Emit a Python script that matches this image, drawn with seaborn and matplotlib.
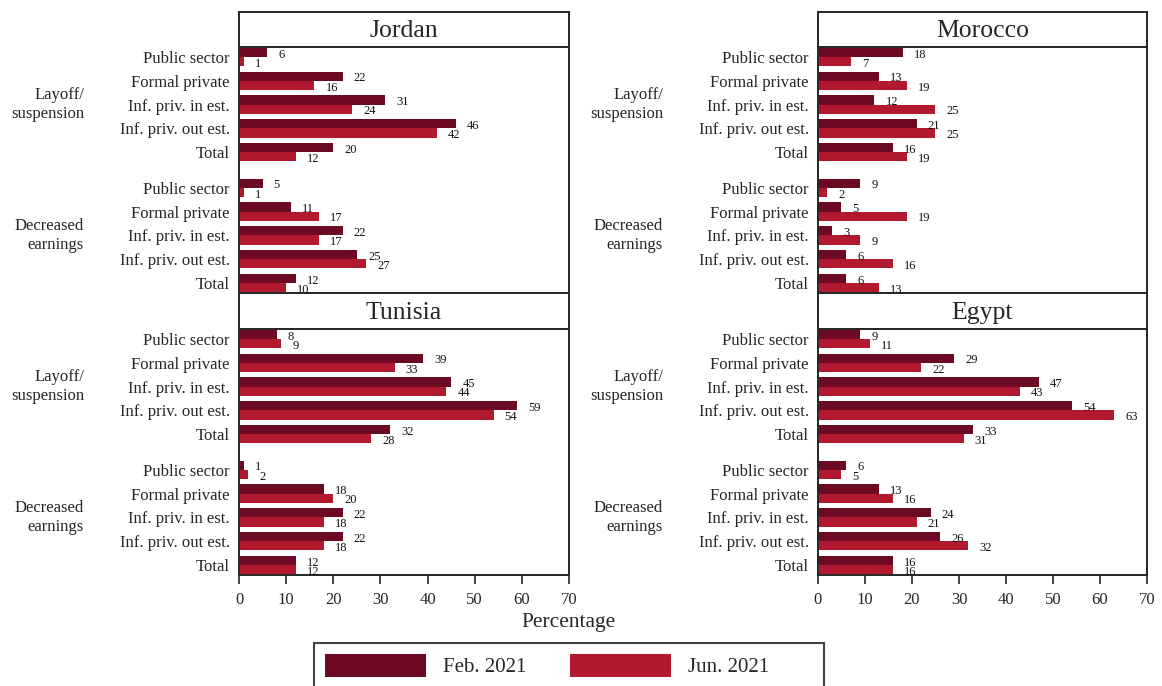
import matplotlib
matplotlib.use("Agg")
import matplotlib.pyplot as plt
from matplotlib.patches import Patch, Rectangle
import pandas as pd
import seaborn as sns

# ---- data -----------------------------------------------------------------
countries = ["Jordan", "Morocco", "Tunisia", "Egypt"]
sectors = ["Public sector", "Formal private", "Inf. priv. in est.",
           "Inf. priv. out est.", "Total"]
group_labels = ["Layoff/\nsuspension", "Decreased\nearnings"]
waves = ["Feb. 2021", "Jun. 2021"]
x_ticks = [0, 10, 20, 30, 40, 50, 60, 70]

# first five values: layoff/suspension; last five: decreased earnings
jordan_feb = [6, 22, 31, 46, 20, 5, 11, 22, 25, 12]
jordan_jun = [1, 16, 24, 42, 12, 1, 17, 17, 27, 10]
morocco_feb = [18, 13, 12, 21, 16, 9, 5, 3, 6, 6]
morocco_jun = [7, 19, 25, 25, 19, 2, 19, 9, 16, 13]
tunisia_feb = [8, 39, 45, 59, 32, 1, 18, 22, 22, 12]
tunisia_jun = [9, 33, 44, 54, 28, 2, 20, 18, 18, 12]
egypt_feb = [9, 29, 47, 54, 33, 6, 13, 24, 26, 16]
egypt_jun = [11, 22, 43, 63, 31, 5, 16, 21, 32, 16]

series = {
    "Jordan": (jordan_feb, jordan_jun),
    "Morocco": (morocco_feb, morocco_jun),
    "Tunisia": (tunisia_feb, tunisia_jun),
    "Egypt": (egypt_feb, egypt_jun),
}

# ---- style ----------------------------------------------------------------
sns.set_style("white")
plt.rcParams["font.family"] = ["Liberation Serif", "DejaVu Serif"]
DARK = "#6B0A22"
RED = "#B2192E"
EDGE = "#262626"

W, H = 1162, 686
fig = plt.figure(figsize=(W / 100, H / 100), dpi=100)

# row positions: two blocks of five rows with a wider gap between blocks
GAP = 1.5
row_pos = [i for i in range(5)] + [4 + GAP + i for i in range(5)]


def fx(px):
    return px / W


def fy(py):
    return 1 - py / H


col_x = {0: (239, 569), 1: (818, 1147)}
row_y = {0: (12, 47, 293), 1: (293, 329, 575)}  # strip top, plot top, plot bottom
layout = {"Jordan": (0, 0), "Morocco": (0, 1), "Tunisia": (1, 0), "Egypt": (1, 1)}

for country in countries:
    r, c = layout[country]
    x0, x1 = col_x[c]
    s_top, p_top, p_bot = row_y[r]

    # facet strip with the country name
    sax = fig.add_axes([fx(x0), fy(p_top), fx(x1 - x0), (p_top - s_top) / H])
    sax.set_xticks([])
    sax.set_yticks([])
    sax.set_facecolor("white")
    for sp in sax.spines.values():
        sp.set_color(EDGE)
        sp.set_linewidth(1.4)
    sax.text(0.5, 0.45, country, ha="center", va="center", fontsize=18.5,
             transform=sax.transAxes)

    ax = fig.add_axes([fx(x0), fy(p_bot), fx(x1 - x0), (p_bot - p_top) / H])
    feb, jun = series[country]
    df = pd.DataFrame({
        "pos": row_pos * 2,
        "value": feb + jun,
        "wave": [waves[0]] * len(feb) + [waves[1]] * len(jun),
    })
    sns.barplot(data=df, x="value", y="pos", hue="wave", hue_order=waves,
                palette=[DARK, RED], orient="y", native_scale=True,
                width=0.78, saturation=1, linewidth=0, errorbar=None,
                legend=False, ax=ax)

    for cont in ax.containers:
        for bar in cont:
            w = bar.get_width()
            yc = bar.get_y() + bar.get_height() / 2
            ax.annotate(f"{w:.0f}", xy=(w, yc), xytext=(8, -1.6),
                        textcoords="offset points", ha="left", va="center",
                        fontsize=9, color="#111111")

    ax.set_xlim(0, 70)
    ax.set_ylim(row_pos[-1] + 0.42, -0.42)
    ax.set_yticks(row_pos)
    ax.set_yticklabels(sectors * 2, fontsize=12)
    ax.tick_params(axis="y", length=0, pad=6.5)
    ax.set_xlabel("")
    ax.set_ylabel("")
    for sp in ax.spines.values():
        sp.set_color(EDGE)
        sp.set_linewidth(1.4)

    if r == 1:
        ax.set_xticks(x_ticks)
        ax.set_xticklabels([str(t) for t in x_ticks], fontsize=12)
        ax.tick_params(axis="x", direction="out", length=6.2, width=1.2,
                       color=EDGE, pad=6, bottom=True)
    else:
        ax.set_xticks([])

    # block labels to the left of the sector names
    for g, lab in enumerate(group_labels):
        yc = (row_pos[5 * g] + row_pos[5 * g + 4]) / 2
        ax.text(-155 / (x1 - x0), yc, lab, ha="right", va="center",
                fontsize=12, linespacing=1.3,
                transform=ax.get_yaxis_transform())

fig.text(fx(569), fy(622), "Percentage", ha="center", va="center", fontsize=15.5)

# legend frame (runs past the bottom edge of the canvas)
fig.add_artist(Rectangle((fx(314), -0.1), fx(824 - 314), fy(643) + 0.1,
                         transform=fig.transFigure, fill=False,
                         edgecolor="#444444", linewidth=1.5))
handles = [Patch(facecolor=DARK, edgecolor="none"),
           Patch(facecolor=RED, edgecolor="none")]
fs = 15
fig.legend(handles, waves, loc="upper left",
           bbox_to_anchor=(fx(325), fy(654)), ncol=2, frameon=False,
           fontsize=fs, handlelength=4.85, handleheight=1.3,
           handletextpad=0.8, columnspacing=2.1, borderpad=0,
           borderaxespad=0)

fig.savefig("out.png", dpi=100)
